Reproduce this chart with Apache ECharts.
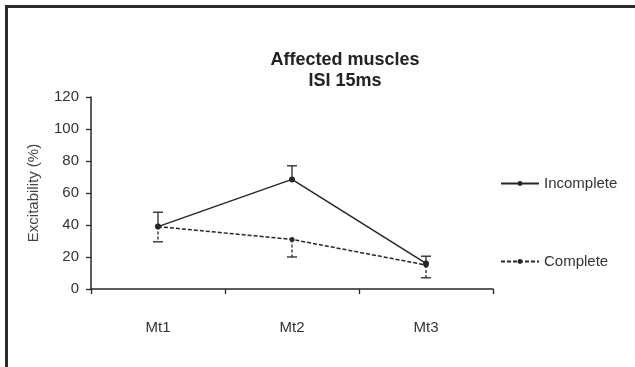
<!DOCTYPE html>
<html>
<head>
<meta charset="utf-8">
<script src="https://cdn.jsdelivr.net/npm/echarts@6/dist/echarts.min.js"></script>
<style>
  html, body { margin: 0; padding: 0; background: #fff; }
  #frame {
    position: absolute; left: 5px; top: 5px; width: 630px; height: 362px;
    border-top: 3px solid #2b2b2b; border-left: 3px solid #2b2b2b; box-sizing: border-box;
  }
  #chart { position: absolute; left: 0; top: 0; width: 635px; height: 367px; }
</style>
</head>
<body>
<div id="frame"></div>
<div id="chart"></div>
<script>
const categories = ['Mt1', 'Mt2', 'Mt3']
const incomplete = [39, 68.5, 16]
const complete = [39, 31, 15]
// error bars: incomplete goes up, complete goes down
const incompleteUpper = [48, 77, 20.5]
const completeLower = [29.5, 20, 7]

const ink = '#262626'

function errorBar(values, ends, dashed) {
  return {
    type: 'custom',
    silent: true,
    z: 1,
    data: values.map((v, i) => [i, v, ends[i]]),
    renderItem: (params, api) => {
      const p0 = api.coord([api.value(0), api.value(1)])
      const p1 = api.coord([api.value(0), api.value(2)])
      const half = 5
      const style = { stroke: ink, lineWidth: 1.3, lineDash: dashed ? [3, 2] : null }
      return {
        type: 'group',
        children: [
          { type: 'line', shape: { x1: p0[0], y1: p0[1], x2: p1[0], y2: p1[1] }, style },
          { type: 'line', shape: { x1: p1[0] - half, y1: p1[1], x2: p1[0] + half, y2: p1[1] }, style: { stroke: ink, lineWidth: 1.3 } }
        ]
      }
    }
  }
}

const chart = echarts.init(document.getElementById('chart'))
chart.setOption({
  animation: false,
  textStyle: { fontFamily: 'Liberation Sans, Arial, sans-serif' },
  title: {
    text: 'Affected muscles\nISI 15ms',
    left: 340,
    top: 45,
    textAlign: 'center',
    textStyle: { fontSize: 18, fontWeight: 'bold', color: '#222', lineHeight: 21 }
  },
  legend: {
    orient: 'vertical',
    left: 495,
    top: 171,
    itemWidth: 38,
    itemHeight: 6,
    itemGap: 63,
    textStyle: { fontSize: 15, color: '#333', padding: [0, 0, 0, 0] },
    data: ['Incomplete', 'Complete']
  },
  grid: { left: 91, right: 142, top: 97, bottom: 78 },
  xAxis: {
    type: 'category',
    data: categories,
    axisLine: { lineStyle: { color: ink, width: 1.5 } },
    axisTick: { show: true, length: 5, lineStyle: { color: ink, width: 1.3 } },
    axisLabel: { margin: 31, fontSize: 15, color: '#333' }
  },
  yAxis: {
    type: 'value',
    min: 0,
    max: 120,
    interval: 20,
    name: 'Excitability (%)',
    nameLocation: 'middle',
    nameGap: 50,
    nameTextStyle: { fontSize: 15, color: '#444' },
    splitLine: { show: false },
    axisLine: { show: true, lineStyle: { color: ink, width: 1.5 } },
    axisTick: { show: true, length: 5, lineStyle: { color: ink, width: 1.3 } },
    axisLabel: { margin: 12, fontSize: 15, color: '#333' }
  },
  series: [
    errorBar(incomplete, incompleteUpper, false),
    errorBar(complete, completeLower, true),
    {
      name: 'Incomplete',
      type: 'line',
      data: incomplete,
      z: 3,
      symbol: 'circle',
      symbolSize: 6,
      itemStyle: { color: ink },
      lineStyle: { color: ink, width: 1.5 }
    },
    {
      name: 'Complete',
      type: 'line',
      data: complete,
      z: 2,
      symbol: 'circle',
      symbolSize: 5,
      itemStyle: { color: ink },
      lineStyle: { color: ink, width: 1.5, type: [4, 2] }
    }
  ]
})
</script>
</body>
</html>
